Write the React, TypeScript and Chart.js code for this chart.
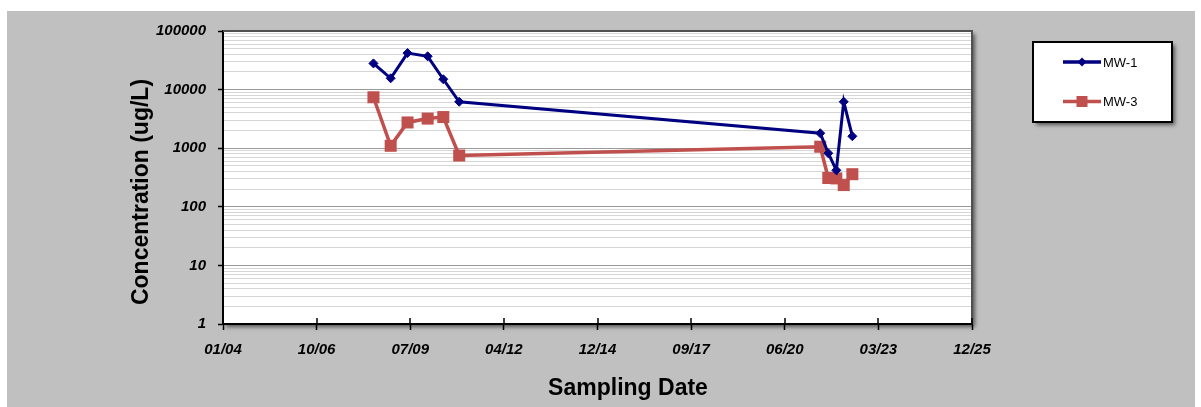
import React, { useEffect, useRef } from 'react';
import { Chart, registerables } from 'chart.js';

Chart.register(...registerables);

// ---- data ----
const sampleDates = [
  '2008-06-08', '2008-12-09', '2009-06-07', '2010-01-08', '2010-06-24', '2010-12-11',
  '2021-07-02', '2021-09-26', '2021-12-21', '2022-03-10', '2022-06-10',
];
const mw1Values = [28000, 15600, 42000, 37000, 15000, 6200, 1800, 820, 420, 6200, 1600];
const mw3Values = [7400, 1100, 2750, 3200, 3400, 750, 1060, 310, 305, 235, 360];
const yTickLabels = ['1', '10', '100', '1000', '10000', '100000'];
// x axis in Excel serial days: 01/04 ... 12/25
const xTickSerials = [38000, 39000, 40000, 41000, 42000, 43000, 44000, 45000, 46000];

const EXCEL_EPOCH = Date.UTC(1899, 11, 30);
const DAY = 86400000;
function isoToSerial(s: string): number {
  const [y, m, d] = s.split('-').map(Number);
  return (Date.UTC(y, m - 1, d) - EXCEL_EPOCH) / DAY;
}
function serialToLabel(v: number): string {
  const dt = new Date(EXCEL_EPOCH + v * DAY);
  const mm = String(dt.getUTCMonth() + 1).padStart(2, '0');
  const yy = String(dt.getUTCFullYear() % 100).padStart(2, '0');
  return `${mm}/${yy}`;
}

const FONT = '"Liberation Sans", Arial, sans-serif';
const NAVY = '#000080';
const RED = '#C0504D';

export default function App() {
  const ref = useRef<HTMLCanvasElement | null>(null);

  useEffect(() => {
    const canvas = ref.current;
    if (!canvas) return;
    const xs = sampleDates.map(isoToSerial);
    const decades = yTickLabels.map(Number);

    const decorPlugin = {
      id: 'decor',
      beforeDraw(chart: any) {
        const { ctx, chartArea: a } = chart;
        ctx.save();
        ctx.fillStyle = '#ffffff';
        ctx.fillRect(0, 0, chart.width, chart.height);
        ctx.fillStyle = '#C0C0C0';
        ctx.fillRect(7, 11, 1188, 396);
        ctx.shadowColor = 'rgba(0,0,0,0.55)';
        ctx.shadowBlur = 4;
        ctx.shadowOffsetX = 3;
        ctx.shadowOffsetY = 3;
        ctx.fillStyle = '#ffffff';
        ctx.fillRect(a.left, a.top, a.right - a.left, a.bottom - a.top);
        ctx.restore();
      },
      beforeDatasetsDraw(chart: any) {
        const { ctx, chartArea: a } = chart;
        const xScale = chart.scales.x;
        ctx.save();
        ctx.strokeStyle = '#505050';
        ctx.lineWidth = 2;
        ctx.beginPath();
        ctx.moveTo(a.left, a.top);
        ctx.lineTo(a.right, a.top);
        ctx.lineTo(a.right, a.bottom);
        ctx.stroke();
        // inside parts of x ticks
        ctx.strokeStyle = '#000';
        ctx.lineWidth = 1.5;
        xScale.ticks.forEach((t: any) => {
          const px = Math.round(xScale.getPixelForValue(t.value));
          ctx.beginPath();
          ctx.moveTo(px, a.bottom - 6);
          ctx.lineTo(px, a.bottom);
          ctx.stroke();
        });
        ctx.restore();
      },
      afterDraw(chart: any) {
        const { ctx } = chart;
        ctx.save();
        // axis titles
        ctx.fillStyle = '#000';
        ctx.font = `bold 23px ${FONT}`;
        ctx.textAlign = 'center';
        ctx.textBaseline = 'alphabetic';
        ctx.fillText('Sampling Date', 628, 395);
        ctx.save();
        ctx.translate(148, 192);
        ctx.rotate(-Math.PI / 2);
        ctx.fillText('Concentration (ug/L)', 0, 0);
        ctx.restore();

        // legend box
        const lx = 1033, ly = 42, lw = 139, lh = 80;
        ctx.save();
        ctx.shadowColor = 'rgba(0,0,0,0.55)';
        ctx.shadowBlur = 4;
        ctx.shadowOffsetX = 3;
        ctx.shadowOffsetY = 3;
        ctx.fillStyle = '#fff';
        ctx.fillRect(lx, ly, lw, lh);
        ctx.restore();
        ctx.strokeStyle = '#000';
        ctx.lineWidth = 2;
        ctx.strokeRect(lx, ly, lw, lh);

        const entries = chart.data.datasets.map((ds: any, i: number) => ({ ds, y: i === 0 ? 62 : 101.5 }));
        entries.forEach(({ ds, y }: any) => {
          ctx.strokeStyle = ds.borderColor;
          ctx.lineWidth = 3.5;
          ctx.beginPath();
          ctx.moveTo(1063, y);
          ctx.lineTo(1101, y);
          ctx.stroke();
          ctx.fillStyle = ds.borderColor;
          if (ds.pointStyle === 'rect') {
            ctx.fillRect(1082 - 5.5, y - 5.5, 11, 11);
          } else {
            ctx.beginPath();
            ctx.moveTo(1082, y - 4.5);
            ctx.lineTo(1086.5, y);
            ctx.lineTo(1082, y + 4.5);
            ctx.lineTo(1077.5, y);
            ctx.closePath();
            ctx.fill();
          }
          ctx.fillStyle = '#000';
          ctx.font = `13px ${FONT}`;
          ctx.textAlign = 'left';
          ctx.textBaseline = 'middle';
          ctx.fillText(ds.label, 1103, y + 1);
        });
        ctx.restore();
      },
    };

    const chart = new Chart(canvas, {
      type: 'line',
      data: {
        datasets: [
          {
            label: 'MW-1',
            data: xs.map((x, i) => ({ x, y: mw1Values[i] })),
            borderColor: NAVY,
            backgroundColor: NAVY,
            borderWidth: 3,
            pointStyle: 'rectRot',
            pointRadius: 4.5,
            pointBorderWidth: 1,
            pointBackgroundColor: NAVY,
            pointBorderColor: NAVY,
            tension: 0,
          },
          {
            label: 'MW-3',
            data: xs.map((x, i) => ({ x, y: mw3Values[i] })),
            borderColor: RED,
            backgroundColor: RED,
            borderWidth: 3.5,
            pointStyle: 'rect',
            pointRadius: 8.5,
            pointBorderWidth: 0,
            pointBackgroundColor: RED,
            pointBorderColor: RED,
            tension: 0,
          },
        ],
      },
      options: {
        responsive: false,
        animation: false,
        events: [],
        layout: { padding: { left: 0, top: 31, right: 229, bottom: 0 } },
        plugins: { legend: { display: false }, tooltip: { enabled: false }, title: { display: false } },
        scales: {
          x: {
            type: 'linear',
            min: xTickSerials[0],
            max: xTickSerials[xTickSerials.length - 1],
            afterBuildTicks: (scale: any) => {
              scale.ticks = xTickSerials.map((v) => ({ value: v }));
            },
            afterFit: (scale: any) => {
              scale.height = 83;
            },
            grid: { drawOnChartArea: false, drawTicks: true, tickLength: 6, tickColor: '#000', tickWidth: 1.5 },
            border: { display: true, color: '#000', width: 2 },
            ticks: {
              autoSkip: false,
              maxRotation: 0,
              padding: 11,
              color: '#000',
              font: { family: FONT, size: 15, style: 'italic', weight: 'bold' },
              callback: (v: any) => serialToLabel(Number(v)),
            },
          },
          y: {
            type: 'logarithmic',
            min: decades[0],
            max: decades[decades.length - 1],
            afterBuildTicks: (scale: any) => {
              const t: any[] = [];
              for (let i = 0; i < decades.length - 1; i++) {
                for (let k = 1; k <= 9; k++) t.push({ value: k * decades[i] });
              }
              t.push({ value: decades[decades.length - 1] });
              scale.ticks = t;
            },
            afterFit: (scale: any) => {
              scale.width = 223;
            },
            grid: {
              drawTicks: true,
              tickLength: 5,
              color: (c: any) => (yTickLabels.includes(String(c.tick?.value)) ? '#9a9a9a' : '#d6d6d6'),
              tickColor: (c: any) => (yTickLabels.includes(String(c.tick?.value)) ? '#000' : 'rgba(0,0,0,0)'),
              lineWidth: 1,
              tickWidth: 1.5,
            },
            border: { display: true, color: '#000', width: 2 },
            ticks: {
              autoSkip: false,
              padding: 12,
              color: '#000',
              font: { family: FONT, size: 15, style: 'italic', weight: 'bold' },
              callback: (v: any) => (yTickLabels.includes(String(v)) ? String(v) : ''),
            },
          },
        },
      },
      plugins: [decorPlugin],
    } as any);

    return () => chart.destroy();
  }, []);

  return (
    <div style={{ position: 'absolute', left: 0, top: 0, width: 1201, height: 407 }}>
      <canvas ref={ref} width={1201} height={407} style={{ display: 'block', width: 1201, height: 407 }} />
    </div>
  );
}
